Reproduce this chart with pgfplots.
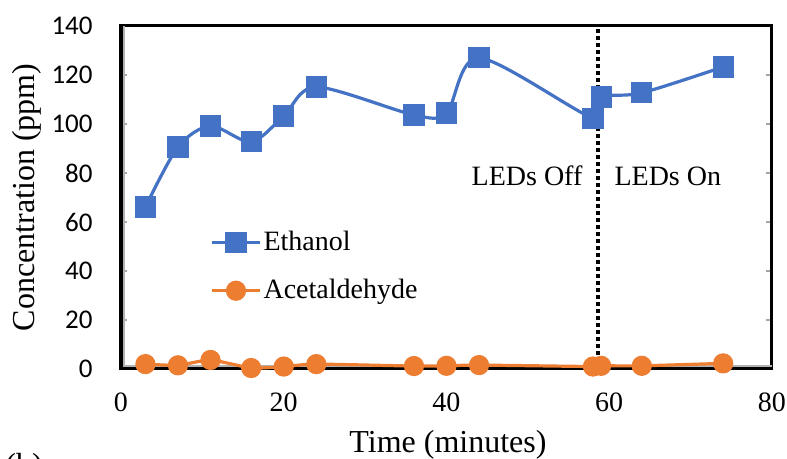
\documentclass[border=0pt]{standalone}
\usepackage{pgfplots}
\pgfplotsset{compat=1.18}
\usepackage{fontspec}
\setmainfont{Liberation Serif}
\newfontfamily\calibri{Carlito}
\definecolor{ethblue}{HTML}{4472C4}
\definecolor{acetorange}{HTML}{ED7D31}

\begin{document}
\begin{tikzpicture}
\path[use as bounding box] (0,0) rectangle (393.5pt,-229.5pt);
\begin{axis}[
  at={(60.5pt,-184.5pt)}, anchor=south west,
  scale only axis, width=325.5pt, height=171.5pt,
  xmin=0, xmax=80, ymin=0, ymax=140,
  xtick={0,20,40,60,80}, xticklabels={0,20,40,60,80},
  ytick={0,20,...,140}, yticklabels={0,20,40,60,80,100,120,140},
  x tick style={draw=none},
  y tick style={gray!70, line width=0.6pt},
  major tick length=3pt, tick align=inside,
  xticklabel style={font=\fontsize{14}{16}\selectfont, anchor=base, yshift=-21.5pt, inner sep=0pt},
  yticklabel style={font=\calibri\fontsize{13.5}{16}\selectfont, anchor=east, xshift=-14pt, inner sep=0pt},
  axis line style={black, line width=1.5pt},
  clip=false,
  legend style={at={(0.1367,0.2988)}, anchor=west, draw=none, fill=none,
    font=\fontsize{14}{16}\selectfont, row sep=11pt, inner sep=0pt,
    nodes={inner sep=1pt}},
  legend cell align=left,
  legend image code/.code={\draw[mark repeat=2, mark phase=2, #1]
    plot coordinates {(0pt,0pt) (12pt,0pt) (24pt,0pt)};},
]
% light inner edge along the left and bottom axis lines
\draw[gray!60, line width=0.8pt] ([xshift=1.4pt]rel axis cs:0,1) -- ([xshift=1.4pt,yshift=1.4pt]rel axis cs:0,0) -- ([yshift=1.4pt]rel axis cs:1,0);

\addplot[ethblue, line width=1.6pt, smooth, tension=0.5,
  mark=square*, mark size=4.5pt, mark options={solid}]
  coordinates {
  (3,66.1) (7,90.6) (11,99.2) (16,92.7) (20,103.3) (24,115.1)
  (36,103.7) (40,104.5) (44,127.0) (58,102.4) (59,111.0) (64,112.7) (74,123.3)
  };
\addlegendentry{Ethanol}

\addplot[acetorange, line width=1.6pt, smooth, tension=0.3,
  mark=*, mark size=4.25pt, mark options={solid}]
  coordinates {
  (3,2.0) (7,1.5) (11,3.7) (16,0.4) (20,1.0) (24,2.0)
  (36,1.2) (40,1.3) (44,1.6) (58,1.0) (59,1.3) (64,1.3) (74,2.3)
  };
\addlegendentry{Acetaldehyde}

% boundary between the two lighting phases
\addplot[black, line width=2pt, dash pattern=on 2pt off 1.5pt, forget plot]
  coordinates {(58.6,0) (58.6,140)};

\node[anchor=base, font=\fontsize{14}{16}\selectfont] at (axis cs:49.9,75.1) {LEDs Off};
\node[anchor=base, font=\fontsize{14}{16}\selectfont] at (axis cs:67.2,75.1) {LEDs On};
\end{axis}

\node[rotate=90, font=\fontsize{16}{19}\selectfont] at (13.5pt,-98.75pt) {Concentration (ppm)};
\node[anchor=base, font=\fontsize{16}{19}\selectfont] at (224pt,-226pt) {Time (minutes)};
\node[anchor=north west, inner sep=0pt, font=\fontsize{16}{19}\selectfont] at (2.5pt,-226.5pt) {(b)};
\end{tikzpicture}
\end{document}
